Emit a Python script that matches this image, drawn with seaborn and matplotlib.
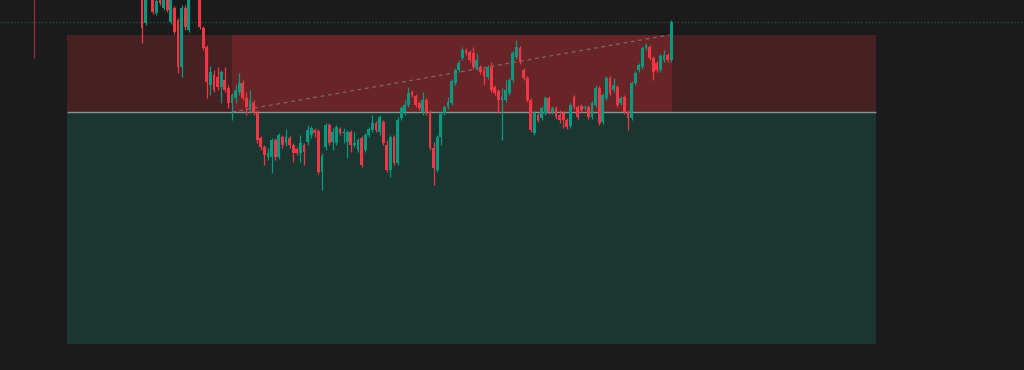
import numpy as np
import pandas as pd
import matplotlib
matplotlib.use('Agg')
import matplotlib.pyplot as plt
import seaborn as sns

# OHLC bars (price units)
opens = [385, 347, 382, 375, 357, 376, 362, 373, 348, 362, 350, 303, 362, 340, 375, 390,
         375, 342, 323, 285, 295, 293, 283, 290, 282, 267, 272, 278, 287, 272, 260, 268,
         257, 232, 223, 213, 213, 230, 213, 233, 227, 232, 225, 221, 217, 225, 228, 235,
         240, 239, 198, 223, 245, 228, 227, 241, 237, 228, 238, 225, 220, 232, 220, 235,
         240, 247, 238, 248, 225, 200, 233, 207, 252, 258, 265, 278, 274, 267, 258, 270,
         258, 222, 200, 233, 257, 263, 267, 287, 300, 312, 320, 318, 317, 302, 303, 300,
         293, 303, 283, 279, 270, 270, 277, 290, 313, 322, 300, 292, 270, 237, 255, 252,
         257, 272, 258, 262, 255, 257, 250, 244, 273, 263, 264, 262, 263, 253, 265, 282,
         248, 272, 292, 280, 283, 267, 273, 258, 252, 287, 300, 303, 322, 323, 312, 307,
         300, 310, 315, 310]
closes = [342, 375, 395, 358, 369, 367, 374, 360, 372, 338, 303, 362, 343, 372, 390, 378,
          343, 322, 288, 298, 280, 283, 298, 280, 267, 275, 280, 287, 272, 263, 270, 257,
          230, 223, 215, 217, 230, 213, 235, 225, 233, 225, 217, 217, 227, 218, 240, 242,
          237, 198, 214, 245, 227, 238, 243, 237, 238, 238, 225, 227, 230, 205, 235, 241,
          247, 240, 253, 227, 200, 233, 207, 250, 262, 265, 277, 275, 265, 262, 270, 258,
          222, 202, 233, 256, 263, 268, 289, 300, 307, 320, 317, 310, 303, 310, 298, 294,
          303, 280, 277, 270, 273, 280, 290, 317, 323, 308, 292, 270, 240, 257, 250, 262,
          272, 258, 262, 253, 250, 250, 243, 265, 263, 253, 260, 263, 253, 267, 282, 247,
          275, 292, 277, 285, 265, 272, 258, 252, 287, 297, 305, 322, 325, 312, 298, 300,
          314, 315, 310, 348]
highs = [390, 380, 400, 378, 374, 379, 377, 376, 375, 364, 352, 365, 365, 375, 395, 395,
         378, 344, 325, 304, 300, 303, 300, 303, 285, 277, 285, 297, 290, 278, 280, 270,
         260, 234, 225, 222, 232, 232, 237, 235, 241, 234, 227, 223, 235, 227, 245, 244,
         242, 241, 217, 247, 247, 242, 245, 243, 242, 240, 240, 238, 232, 234, 237, 243,
         255, 249, 255, 250, 230, 235, 235, 253, 264, 270, 283, 280, 276, 269, 278, 272,
         260, 228, 235, 258, 265, 273, 291, 302, 310, 323, 322, 320, 323, 317, 305, 302,
         305, 308, 285, 281, 282, 290, 292, 319, 330, 324, 302, 294, 272, 259, 257, 264,
         274, 274, 264, 264, 260, 259, 252, 267, 275, 265, 266, 265, 265, 269, 285, 284,
         277, 294, 294, 292, 285, 274, 275, 260, 289, 299, 307, 324, 327, 325, 314, 309,
         316, 320, 317, 350]
lows = [327, 345, 378, 356, 355, 365, 360, 358, 346, 336, 297, 293, 340, 338, 373, 373,
        341, 320, 272, 275, 278, 280, 267, 278, 262, 250, 267, 275, 270, 255, 258, 255,
        227, 220, 205, 210, 197, 210, 211, 222, 224, 222, 208, 215, 208, 205, 225, 232,
        233, 196, 180, 220, 225, 220, 225, 235, 227, 212, 218, 223, 218, 203, 218, 233,
        238, 238, 235, 225, 198, 193, 205, 205, 250, 255, 263, 273, 263, 260, 255, 255,
        220, 185, 198, 225, 255, 261, 265, 285, 298, 310, 315, 308, 301, 300, 296, 285,
        291, 278, 275, 257, 230, 268, 275, 288, 311, 306, 290, 268, 238, 235, 248, 250,
        255, 256, 256, 251, 247, 242, 241, 242, 261, 251, 258, 260, 251, 251, 263, 245,
        246, 270, 275, 278, 263, 265, 256, 240, 250, 285, 298, 301, 320, 310, 290, 298,
        298, 308, 308, 308]

# lone bar far to the left (body above the visible range)
lone_bar = {'bar': -30, 'open': 400, 'close': 385, 'high': 410, 'low': 312}

# short position tool
entry_price = 258
stop_price = 335
target_price = 26
tool_start_bar = -20.7
tool_end_bar = 204
entry_bar = 25

UP = '#089981'
DOWN = '#f23645'
BG = '#1b1b1b'

df = pd.DataFrame({'open': opens, 'high': highs, 'low': lows, 'close': closes})
df['bar'] = np.arange(len(df))
df['up'] = df['close'] >= df['open']
df['color'] = np.where(df['up'], UP, DOWN)

sns.set_theme(style='dark', rc={'axes.facecolor': BG, 'figure.facecolor': BG})

fig = plt.figure(figsize=(10.24, 3.70), dpi=100)
ax = fig.add_axes([0, 0, 1, 1])
ax.set_facecolor(BG)

# position tool zones
ax.fill_between([tool_start_bar, tool_end_bar], entry_price, stop_price,
                color='#452123', lw=0, zorder=1)
ax.fill_between([tool_start_bar, tool_end_bar], target_price, entry_price,
                color='#1b3530', lw=0, zorder=1)
last_bar = df['bar'].iloc[-1]
ax.fill_between([entry_bar, last_bar + 0.35], entry_price, stop_price,
                color='#672528', lw=0, zorder=1.5)
ax.hlines(entry_price, tool_start_bar, tool_end_bar, color='#8e9392', lw=1, zorder=2)

# path from entry to current price
sns.lineplot(x=[entry_bar, last_bar - 0.5], y=[entry_price, stop_price], ax=ax,
             color='#8a8a8a', lw=0.9, linestyle=(0, (3, 3)), alpha=0.65, zorder=2.5)

# last price line
ax.axhline(df['close'].iloc[-1], color='#1d5447', lw=1, linestyle=(0, (1, 1.5)), zorder=2)

# candles
ax.vlines(df['bar'], df['low'], df['high'], colors=df['color'], lw=0.9, zorder=3)
body = (df['close'] - df['open']).abs().clip(lower=1)
bottom = df[['open', 'close']].min(axis=1)
ax.bar(df['bar'], body, bottom=bottom, width=0.8, color=df['color'], lw=0, zorder=4)

ax.vlines(lone_bar['bar'], lone_bar['low'], lone_bar['high'], colors=DOWN,
          lw=0.9, alpha=0.6, zorder=3)

ax.set_xlim(-142 / 3.6, (1024 - 142) / 3.6)
ax.set_ylim(0, 370)
ax.set_xticks([])
ax.set_yticks([])
sns.despine(ax=ax, left=True, bottom=True)
ax.grid(False)

fig.savefig('out.png', dpi=100, facecolor=BG)
